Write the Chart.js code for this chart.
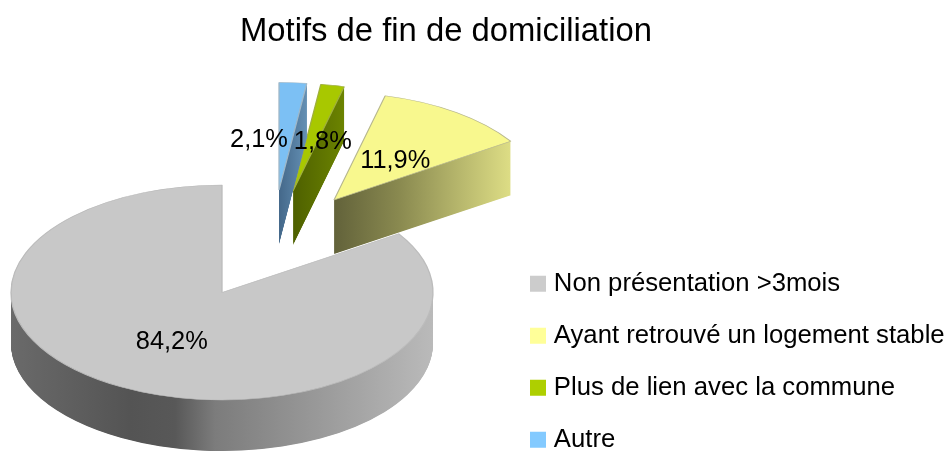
<!DOCTYPE html>
<html><head><meta charset="utf-8">
<style>html,body{margin:0;padding:0;background:#fff}#w{width:950px;height:451px;position:relative}</style>
<script src="https://cdn.jsdelivr.net/npm/chart.js@4"></script></head>
<body><div id="w"><canvas id="c" width="950" height="451"></canvas></div>
<script>
const chartTitle = 'Motifs de fin de domiciliation';
const categories = ['Non présentation >3mois', 'Ayant retrouvé un logement stable', 'Plus de lien avec la commune', 'Autre'];
const values = [84.2, 11.9, 1.8, 2.1];
const valueLabels = ['84,2%', '11,9%', '1,8%', '2,1%'];
const legendColors = ['#cccccc', '#ffff99', '#aecf00', '#83caff'];
const topColors = ['#c8c8c8', '#f8f88e', '#a8c800', '#7cc0f4'];
const edgeColors = ['#bcbcbc', '#b8b890', '#a0b040', '#a0b8c8'];

// pseudo-3D view of the pie
const view = {cx: 222, cy: 292.5, rx: 211, ry: 107.5};
const explode = [[0, 0], [112, -92.5], [71, -101.5], [57, -102.5]];
const depth = [51, 54, 54, 54];
const labelShift = [[0, 2], [0, 5], [10, 4], [-27, 4]];
const wallStops = [
  [[11, '#6a6a6a'], [130, '#545454'], [175, '#585858'], [215, '#7c7c7c'], [300, '#949494'], [433, '#bababa']],
  [[334, '#62623a'], [400, '#8a8a50'], [509, '#dcdc84']],
  [[293, '#4e6000'], [345, '#6c8400']],
  [[279, '#44688a'], [307, '#6490b4']]
];
const FONT = '"Liberation Sans", Arial, sans-serif';
const LEGEND_PAD = 26.3;

const pseudo3d = {
  id: 'pseudo3d',
  afterLayout(chart) {
    const t = chart.titleBlock; t.left = 0; t.right = 892;
    const l = chart.legend;
    l.left = 535 - LEGEND_PAD; l.right = 950;
    l.top = 271 - LEGEND_PAD; l.bottom = 600;
  },
  beforeDatasetsDraw(chart) {
    const ctx = chart.ctx;
    const arcs = chart.getDatasetMeta(0).data;
    [0, 1, 2, 3].forEach(i => {
      const arc = arcs[i], base = arc.options;
      const R = arc.outerRadius, sx = -view.rx / R, sy = view.ry / R;
      const ax = view.cx + explode[i][0], ay = view.cy + explode[i][1];
      const toUser = x => arc.x + (x - ax) / sx;
      const place = d => { ctx.translate(ax, ay + d); ctx.scale(sx, sy); ctx.translate(-arc.x, -arc.y); };
      const s = wallStops[i], x0 = s[0][0], x1 = s[s.length - 1][0];
      for (let d = depth[i]; d > 0; d -= 0.5) {
        ctx.save(); place(d);
        const g = ctx.createLinearGradient(toUser(x0), 0, toUser(x1), 0);
        s.forEach(p => g.addColorStop((p[0] - x0) / (x1 - x0), p[1]));
        const o = Object.create(base);
        o.backgroundColor = g; o.borderWidth = 0;
        arc.options = o; arc.draw(ctx);
        ctx.restore();
      }
      ctx.save(); place(0);
      const top = Object.create(base);
      top.backgroundColor = topColors[i]; top.borderColor = edgeColors[i]; top.borderWidth = 1.2;
      arc.options = top; arc.draw(ctx);
      ctx.restore();
      arc.options = base;
    });
    return false;
  },
  afterDraw(chart) {
    const ctx = chart.ctx;
    const arcs = chart.getDatasetMeta(0).data;
    ctx.save();
    ctx.font = '25.4px ' + FONT; ctx.fillStyle = '#000';
    ctx.textAlign = 'center'; ctx.textBaseline = 'middle';
    arcs.forEach((arc, i) => {
      const p = arc.tooltipPosition();
      const R = arc.outerRadius;
      const x = view.cx + explode[i][0] - (p.x - arc.x) * view.rx / R + labelShift[i][0];
      const y = view.cy + explode[i][1] + (p.y - arc.y) * view.ry / R + labelShift[i][1];
      ctx.fillText(valueLabels[i], x, y);
    });
    ctx.restore();
  }
};

new Chart(document.getElementById('c'), {
  type: 'pie',
  data: {labels: categories, datasets: [{data: values, backgroundColor: legendColors, borderWidth: 0}]},
  options: {
    responsive: false, animation: false,
    plugins: {
      tooltip: {enabled: false},
      title: {display: true, text: chartTitle, color: '#000', font: {family: FONT, size: 32.8, weight: 'normal'}, padding: {top: 12, bottom: 10}},
      legend: {
        position: 'right', align: 'start',
        labels: {
          color: '#000', font: {family: FONT, size: 25.7}, boxWidth: 6, boxHeight: 6, padding: LEGEND_PAD,
          generateLabels: () => categories.map((t, i) => ({text: t, fillStyle: legendColors[i], strokeStyle: legendColors[i], lineWidth: 10, index: i}))
        }
      }
    }
  },
  plugins: [pseudo3d]
});
</script></body></html>
